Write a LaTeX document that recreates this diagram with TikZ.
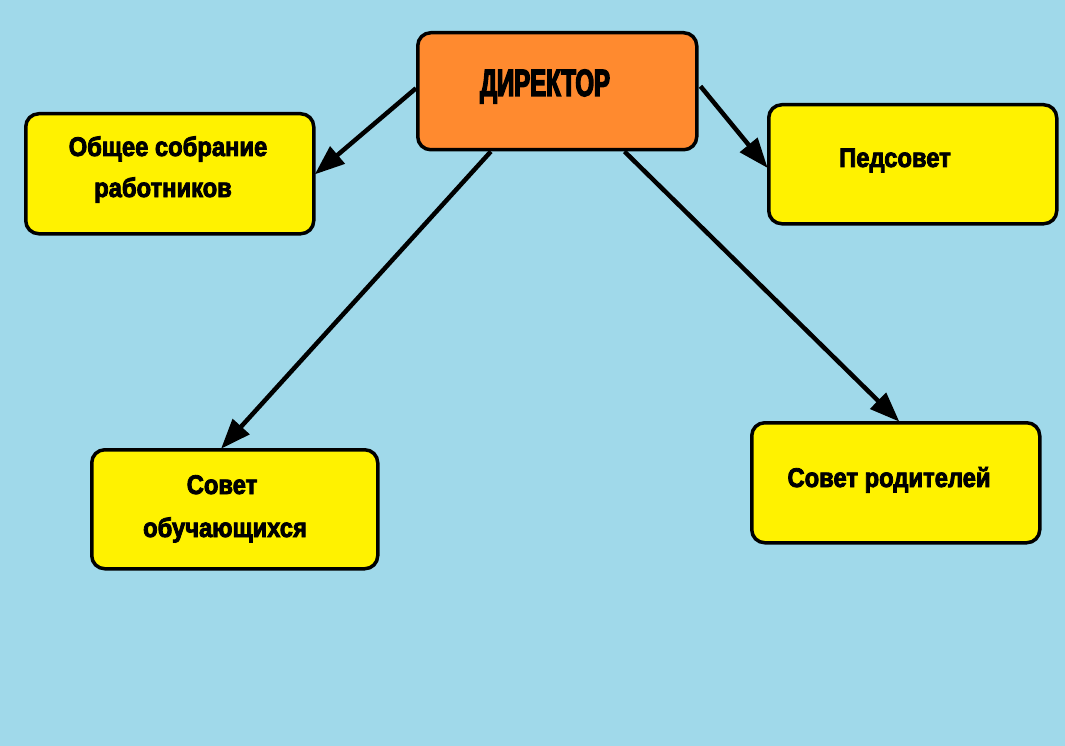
\documentclass[tikz,border=0pt]{standalone}
\usepackage{fontspec}
\usetikzlibrary{arrows.meta,calc}
\newfontfamily\labf{Liberation Sans}[BoldFeatures={FakeStretch=0.88,FakeBold=3}]
\newfontfamily\dirf{Liberation Sans}[BoldFeatures={FakeStretch=0.63,FakeBold=3.5}]
\definecolor{bg}{HTML}{A0D9EA}
\definecolor{boxy}{HTML}{FFF200}
\definecolor{boxo}{HTML}{FF8A2F}
\tikzset{
  box/.style={draw=black, line width=3.5pt, rounded corners=13pt, inner sep=0pt, anchor=north west},
  lab/.style={font=\labf\bfseries\fontsize{27}{30}\selectfont, anchor=base, inner sep=0pt},
  dirlab/.style={font=\dirf\bfseries\fontsize{38}{40}\selectfont, anchor=base, inner sep=0pt},
  conn/.style={line width=4.5pt, -{Triangle[length=30pt,width=22pt]}, shorten >=-1pt}
}
\begin{document}
\begin{tikzpicture}[x=1pt,y=-1pt]
\fill[bg] (0,0) rectangle (1065,746);
\useasboundingbox (0,0) rectangle (1065,746);
% boxes
\node[box, fill=boxo, minimum width=279pt, minimum height=117pt] (dir) at (416,31) {};
\node[box, fill=boxy, minimum width=288pt, minimum height=120pt] (ob) at (24,112) {};
\node[box, fill=boxy, minimum width=288pt, minimum height=119pt] (ped) at (767,103) {};
\node[box, fill=boxy, minimum width=286pt, minimum height=119pt] (sov) at (90,448) {};
\node[box, fill=boxy, minimum width=288pt, minimum height=120pt] (rod) at (750,421) {};
% texts
\node[dirlab] (tdir) at (545,96) {ДИРЕКТОР};
\node[lab] (tob1) at (168,156) {Общее собрание};
\node[lab] (tob2) at (163,197) {работников};
\node[lab] (tped) at (895,167) {Педсовет};
\node[lab] (tsov1) at (222,494) {Совет};
\node[lab] (tsov2) at (225,537) {обучающихся};
\node[lab] (trod) at (889,487) {Совет родителей};
% connectors
\draw[conn] ($(dir.west)+(0,-3)$) -- (ob.east);
\draw[conn] ($(dir.east)+(2,-5)$) -- ($(ped.west)+(0,3)$);
\draw[conn] ($(dir.south west)!0.265!(dir.south east)$) -- ($(sov.north west)!0.455!(sov.north east)$);
\draw[conn] ($(dir.south west)!0.738!(dir.south east)$) -- ($(rod.north west)!0.51!(rod.north east)$);
\end{tikzpicture}
\end{document}
